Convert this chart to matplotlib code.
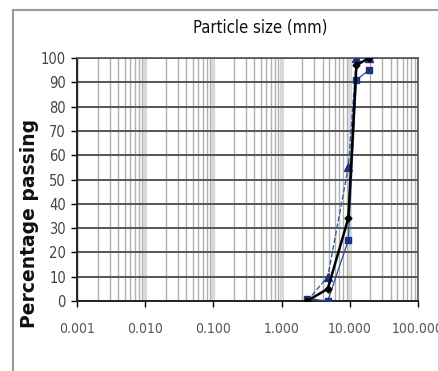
import numpy as np
import matplotlib.pyplot as plt
from matplotlib.lines import Line2D
from matplotlib import font_manager

# Sieve sizes (mm) and percentage passing for each sample
sizes = [2.36, 4.75, 9.5, 12.5, 19.0]
pass_sq = [1, 0, 25, 91, 95]      # squares, thin blue line
pass_tri = [0, 10, 55, 100, 100]  # triangles, dashed blue line
pass_dia = [0, 5, 34, 97, 100]    # diamonds, black line

xticks = [0.001, 0.01, 0.1, 1, 10, 100]
xticklabels = ['0.001', '0.010', '0.100', '1.000', '10.000', '100.000']
yticks = list(range(0, 101, 10))

names = sorted({f.name for f in font_manager.fontManager.ttflist})
print([n for n in names if 'Narrow' in n or 'Condensed' in n])
narrow = [n for n in ['Liberation Sans Narrow', 'DejaVu Sans Condensed']
          if n in names] + ['DejaVu Sans']
navy = '#1b3480'

fig = plt.figure(figsize=(4.38, 3.71), dpi=100)
ax = fig.add_axes([77/438, 1-301/371, (418-77)/438, (301-58)/371])

# Grid
for d in range(-3, 2):
    for m in range(2, 10):
        ax.axvline(m*10.0**d, color='#b0b0b0', lw=1.0, zorder=0)
    ax.axvline(10.0**d, color='#d8d8d8', lw=3, zorder=0)
for y in yticks:
    ax.axhline(y, color='#555555', lw=1.4, zorder=1)

# Data
ax.plot(sizes, pass_sq, color='#2a4a9a', lw=0.9, marker='s', ms=5,
        mfc=navy, mec=navy, zorder=3)
ax.plot(sizes, pass_tri, color='#3a5aa8', lw=1.0, ls='--', marker='^', ms=5.5,
        mfc=navy, mec=navy, zorder=3)
ax.plot(sizes, pass_dia, color='black', lw=1.8, marker='D', ms=3.5,
        mfc='black', mec='black', zorder=4)

# Formatting
ax.set_xscale('log')
ax.set_xlim(0.001, 100)
ax.set_ylim(0, 100)
ax.set_xticks(xticks)
ax.set_xticklabels(xticklabels, family=narrow, stretch='condensed',
                   fontsize=10, color='#555555')
ax.xaxis.set_minor_locator(plt.NullLocator())
ax.set_yticks(yticks)
ax.set_yticklabels([str(v) for v in yticks], family=narrow,
                   stretch='condensed', fontsize=10.5, color='#444444')
ax.tick_params(axis='x', length=4, width=1, pad=11)
ax.tick_params(axis='y', length=4, width=1, pad=4)
for side in ['left', 'bottom']:
    ax.spines[side].set_color('#222222')
    ax.spines[side].set_linewidth(1.4)
for side in ['top', 'right']:
    ax.spines[side].set_color('#555555')
    ax.spines[side].set_linewidth(1.2)

fig.text(260/438, 1-28/371, 'Particle size (mm)', family=narrow,
         stretch='condensed', fontsize=12, ha='center', va='center',
         color='#111111')
fig.text(30/438, 1-223/371, 'Percentage passing', fontsize=13.5,
         fontweight='bold', rotation=90, ha='center', va='center',
         color='#111111')

# Outer chart frame
fx, fy = 13/438, 1-10/371
fig.add_artist(Line2D([fx, fx], [0, fy], color='#999999', lw=1.5,
                      transform=fig.transFigure))
fig.add_artist(Line2D([fx, 1.01], [fy, fy], color='#999999', lw=1.5,
                      transform=fig.transFigure))

plt.savefig('out.png', dpi=100)
